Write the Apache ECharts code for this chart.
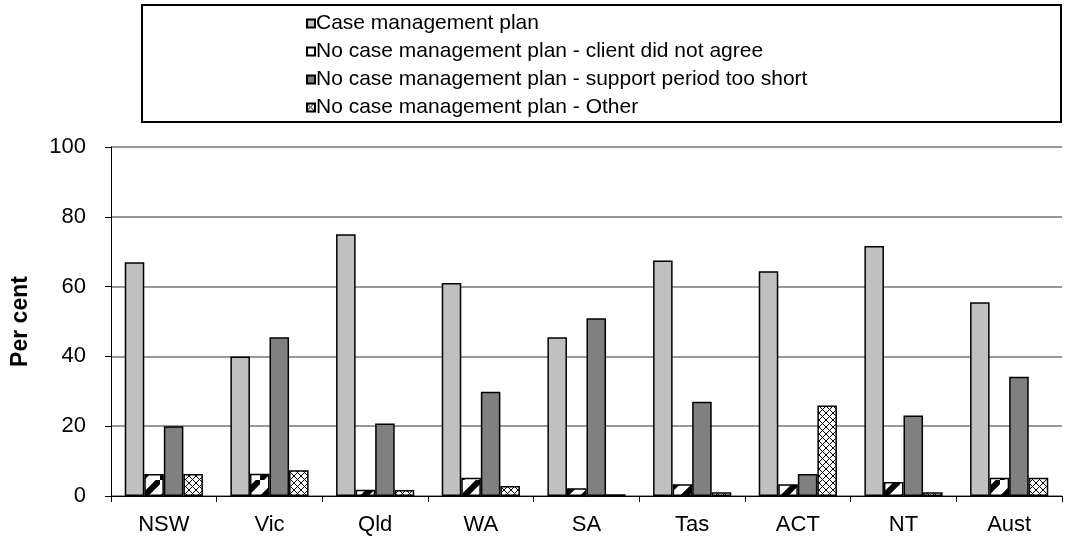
<!DOCTYPE html>
<html>
<head>
<meta charset="utf-8">
<script src="https://cdn.jsdelivr.net/npm/echarts@6/dist/echarts.min.js"></script>
<style>
  html, body { margin: 0; padding: 0; background: #fff; }
  #main { width: 1065px; height: 544px; }
</style>
</head>
<body>
<div id="main"></div>
<script>
  // categories and values
  var states = ["NSW", "Vic", "Qld", "WA", "SA", "Tas", "ACT", "NT", "Aust"];
  var seriesNames = [
    "Case management plan",
    "No case management plan - client did not agree",
    "No case management plan - support period too short",
    "No case management plan - Other"
  ];
  var planData = [67, 40, 75, 61, 45.5, 67.5, 64.4, 71.6, 55.5];
  var notAgreeData = [6.3, 6.4, 1.8, 5.2, 2.2, 3.4, 3.4, 4.0, 5.2];
  var tooShortData = [20, 45.5, 20.8, 29.9, 50.9, 27, 6.3, 23.1, 34.2];
  var otherData = [6.3, 7.4, 1.7, 2.9, 0.5, 1.1, 25.9, 1.1, 5.2];
  var yTicks = [0, 20, 40, 60, 80, 100];

  // hatch patterns
  function stripeCanvas() {
    var c = document.createElement("canvas");
    c.width = 20; c.height = 20;
    var ctx = c.getContext("2d");
    ctx.fillStyle = "#fff";
    ctx.fillRect(0, 0, 20, 20);
    ctx.strokeStyle = "#000";
    ctx.lineWidth = 6;
    ctx.beginPath();
    ctx.moveTo(-5, 25); ctx.lineTo(25, -5);
    ctx.stroke();
    return c;
  }
  function crossCanvas() {
    var c = document.createElement("canvas");
    c.width = 7; c.height = 7;
    var ctx = c.getContext("2d");
    ctx.fillStyle = "#fff";
    ctx.fillRect(0, 0, 7, 7);
    ctx.strokeStyle = "#000";
    ctx.lineWidth = 1;
    ctx.beginPath();
    ctx.moveTo(0, 0); ctx.lineTo(7, 7);
    ctx.moveTo(7, 0); ctx.lineTo(0, 7);
    ctx.stroke();
    return c;
  }

  var font = "Liberation Sans, Arial, sans-serif";
  var chart = echarts.init(document.getElementById("main"));

  function bar(name, data, color) {
    return {
      name: name,
      type: "bar",
      data: data,
      barGap: "0%",
      barCategoryGap: "26%",
      itemStyle: { color: color, borderColor: "#000", borderWidth: 1.5 },
      emphasis: { disabled: true }
    };
  }

  chart.setOption({
    animation: false,
    textStyle: { fontFamily: font },
    grid: { left: 111, right: 3, top: 147, bottom: 48 },
    graphic: [{
      type: "rect",
      shape: { x: 142, y: 5, width: 919, height: 117 },
      style: { fill: "none", stroke: "#000", lineWidth: 2 },
      z: -1
    }],
    legend: {
      orient: "vertical",
      left: 301,
      top: 8,
      itemWidth: 8,
      itemHeight: 8,
      itemGap: 7,
      icon: "rect",
      textStyle: { fontSize: 21, color: "#000", fontFamily: font, padding: [0, 0, 0, -4] },
      data: seriesNames
    },
    xAxis: {
      type: "category",
      data: states,
      axisLine: { lineStyle: { color: "#000", width: 1 } },
      axisTick: { show: true, length: 6, lineStyle: { color: "#000" } },
      axisLabel: { fontSize: 22, color: "#000", margin: 18 }
    },
    yAxis: {
      type: "value",
      min: yTicks[0],
      max: yTicks[yTicks.length - 1],
      interval: 20,
      name: "Per cent",
      nameLocation: "middle",
      nameGap: 79,
      nameTextStyle: { fontSize: 23, fontWeight: "bold", color: "#000" },
      axisLine: { show: true, lineStyle: { color: "#000", width: 1 } },
      axisTick: { show: true, length: 6, lineStyle: { color: "#000" } },
      axisLabel: { fontSize: 22, color: "#000", margin: 25 },
      splitLine: { lineStyle: { color: "#999", width: 2 } }
    },
    series: [
      bar(seriesNames[0], planData, "#c0c0c0"),
      bar(seriesNames[1], notAgreeData, { image: stripeCanvas(), repeat: "repeat" }),
      bar(seriesNames[2], tooShortData, "#808080"),
      bar(seriesNames[3], otherData, { image: crossCanvas(), repeat: "repeat" })
    ]
  });
</script>
</body>
</html>
